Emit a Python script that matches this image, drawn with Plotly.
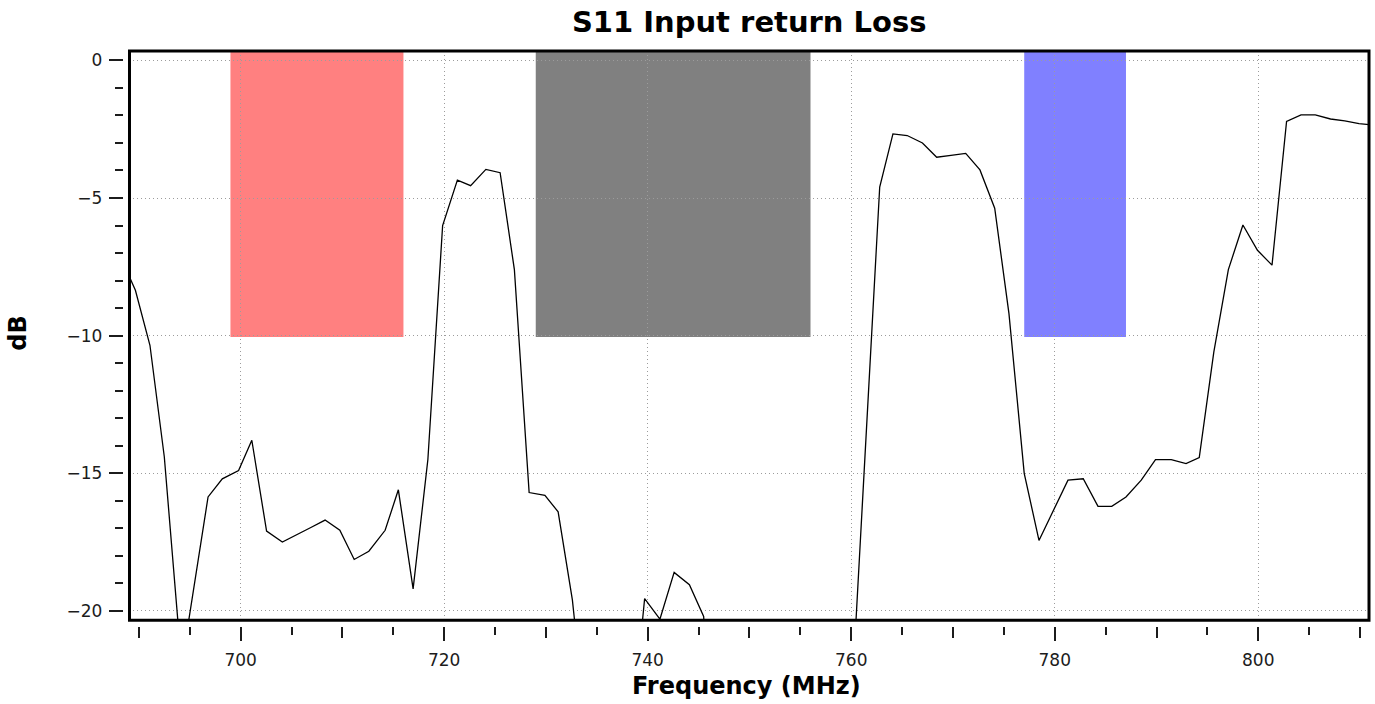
import plotly.graph_objects as go

# ---------------- data ----------------
freq_mhz = [688.23, 689.66, 691.09, 692.5, 694.2, 696.8, 698.2, 699.8, 701.1, 702.55,
            704.1, 705.5, 706.9, 708.3, 709.75, 711.16, 712.6, 714.2, 715.5, 716.95,
            718.4, 719.85, 721.3, 722.6, 724.1, 725.5, 726.9, 728.35, 729.9, 731.2,
            732.6, 734.0, 735.4, 736.9, 738.3, 739.7, 741.2, 742.6, 744.1, 745.5,
            747.0, 748.3, 749.7, 751.2, 752.6, 754.0, 755.4, 756.9, 758.3, 759.9,
            761.35, 762.8, 764.1, 765.5, 767.0, 768.4, 769.8, 771.25, 772.65, 774.1,
            775.5, 777.0, 778.45, 779.9, 781.3, 782.8, 784.25, 785.6, 787.0, 788.5,
            789.9, 791.45, 792.9, 794.2, 795.63, 797.06, 798.49, 799.92, 801.35, 802.78,
            804.2, 805.6, 807.1, 808.5, 809.9, 811.4]
s11_db = [-7.17, -8.35, -10.35, -14.4, -22.0, -15.86, -15.2, -14.9, -13.8, -17.1,
          -17.5, -17.25, -16.97, -16.7, -17.07, -18.13, -17.83, -17.07, -15.6, -19.2,
          -14.5, -6.0, -4.35, -4.55, -3.96, -4.08, -7.6, -15.7, -15.8, -16.4,
          -19.6, -24.5, -27.0, -28.5, -24.85, -19.55, -20.3, -18.6, -19.05, -20.2,
          -29.0, -31.0, -33.0, -34.5, -33.5, -31.5, -30.0, -29.0, -27.5, -24.2,
          -14.3, -4.6, -2.67, -2.73, -3.0, -3.52, -3.45, -3.38, -3.98, -5.37,
          -9.2, -15.0, -17.44, -16.3, -15.25, -15.2, -16.2, -16.2, -15.86, -15.25,
          -14.5, -14.5, -14.65, -14.43, -10.6, -7.6, -5.98, -6.9, -7.44, -2.22,
          -1.98, -1.98, -2.13, -2.2, -2.3, -2.35]

band_start_mhz = [699, 729, 777]
band_end_mhz = [716, 756, 787]
band_floor_db = [-10.05, -10.05, -10.05]
band_colors = ["#ff8080", "#808080", "#8080ff"]

# ---------------- layout constants ----------------
X_RANGE = [689.08, 810.88]
Y_RANGE = [-20.34, 0.34]
W, H = 1375, 704
ML, MR, MT, MB = 123, 5.5, 51.3, 78.3
PW = W - ML - MR
PH = H - MT - MB
x_dom = [6.5 / PW, 1]
y_dom = [5.7 / PH, 1]

FONT = "DejaVu Sans"
TXT = "#1c1c1c"
GRID = "#9c9c9c"

fig = go.Figure()

for xs, xe, yb, col in zip(band_start_mhz, band_end_mhz, band_floor_db, band_colors):
    fig.add_shape(type="rect", xref="x", yref="y", x0=xs, x1=xe, y0=yb, y1=Y_RANGE[1],
                  fillcolor=col, line_width=0, layer="below")

fig.add_trace(go.Scatter(x=freq_mhz, y=s11_db, mode="lines",
                         line=dict(color="black", width=1.3),
                         hoverinfo="skip", showlegend=False))
# invisible helper trace so the secondary tick axis is drawn
fig.add_trace(go.Scatter(x=freq_mhz, y=s11_db, mode="lines", xaxis="x2", yaxis="y",
                         line=dict(width=0), opacity=0, hoverinfo="skip", showlegend=False))

# frame
fig.add_shape(type="rect", xref="x domain", yref="y domain", x0=0, x1=1, y0=0, y1=1,
              line=dict(color="black", width=3), fillcolor="rgba(0,0,0,0)", layer="above")

fig.update_layout(
    width=W, height=H,
    margin=dict(l=ML, r=MR, t=MT, b=MB, pad=0),
    paper_bgcolor="white", plot_bgcolor="white",
    showlegend=False,
    title=dict(text="S11 Input return Loss", x=(749.5 - ML) / PW, xref="paper",
               xanchor="center", y=1 - 22 / H, yref="container", yanchor="middle",
               font=dict(family=FONT, size=29, color="black", weight="bold")),
    xaxis=dict(range=X_RANGE, domain=x_dom, anchor="free", position=0,
               showline=False, zeroline=False,
               showgrid=True, gridcolor=GRID, griddash="1px,3px", gridwidth=1,
               tickmode="linear", tick0=0, dtick=20,
               ticks="outside", ticklen=14.3, tickwidth=2, tickcolor=TXT,
               tickfont=dict(family=FONT, size=17, color=TXT), ticklabelstandoff=4,
               minor=dict(tickmode="linear", tick0=0, dtick=5, ticks="outside",
                          ticklen=7.7, tickwidth=2, tickcolor=TXT, showgrid=False)),
    xaxis2=dict(range=X_RANGE, domain=x_dom, overlaying="x", anchor="free", position=0,
                showline=False, zeroline=False, showgrid=False, showticklabels=False,
                tickmode="linear", tick0=0, dtick=10,
                ticks="outside", ticklen=11, tickwidth=2, tickcolor=TXT),
    yaxis=dict(range=Y_RANGE, domain=y_dom, anchor="free", position=0,
               showline=False, zeroline=False,
               showgrid=True, gridcolor=GRID, griddash="1px,3px", gridwidth=1,
               tickmode="linear", tick0=0, dtick=5,
               ticks="outside", ticklen=14.3, tickwidth=2, tickcolor=TXT,
               tickfont=dict(family=FONT, size=17, color=TXT), ticklabelstandoff=3,
               minor=dict(tickmode="linear", tick0=0, dtick=1, ticks="outside",
                          ticklen=8.3, tickwidth=2, tickcolor=TXT, showgrid=False)),
    annotations=[
        dict(text="Frequency (MHz)", xref="x domain", yref="paper", x=0.5, y=0,
             xanchor="center", yanchor="middle", yshift=-60, xshift=-3,
             showarrow=False, font=dict(family=FONT, size=24, color="black", weight="bold")),
        dict(text="dB", xref="paper", yref="y domain", x=0, y=0.5,
             xanchor="center", yanchor="middle", xshift=-105, yshift=2, textangle=-90,
             showarrow=False, font=dict(family=FONT, size=24, color="black", weight="bold")),
    ],
)

# place the figure at the page's top-left corner (remove the default body margin)
fig.write_html("out.html", post_script="document.body.style.margin='0';",
               config={"displayModeBar": False})
